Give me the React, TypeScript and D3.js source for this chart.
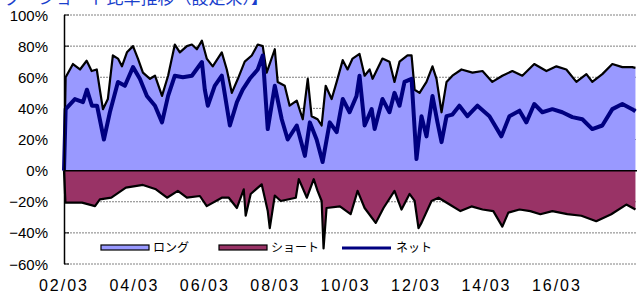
import React from "react";
import * as d3 from "d3";

// ロング比率（％）
const longDates = [
  "2002-03-01", "2002-03-18", "2002-06-02", "2002-08-14", "2002-10-22", "2002-12-13", "2003-02-04",
  "2003-03-08", "2003-04-09", "2003-05-30", "2003-07-21", "2003-09-12", "2003-10-23", "2003-12-14",
  "2004-02-15", "2004-04-06", "2004-05-28", "2004-08-09", "2004-09-30", "2004-12-12", "2005-02-13",
  "2005-04-24", "2005-06-15", "2005-08-27", "2005-10-18", "2005-12-09", "2006-01-30", "2006-03-21",
  "2006-05-22", "2006-08-24", "2006-10-15", "2006-12-06", "2007-02-07", "2007-04-19", "2007-07-01",
  "2007-09-01", "2007-10-23", "2007-12-03", "2008-02-25", "2008-03-26", "2008-06-07", "2008-07-28",
  "2008-10-10", "2008-12-11", "2009-02-01", "2009-03-13", "2009-05-14", "2009-06-25", "2009-08-06",
  "2009-10-07", "2009-11-28", "2010-01-30", "2010-03-21", "2010-05-12", "2010-07-23", "2010-09-14",
  "2010-11-05", "2010-12-06", "2011-03-18", "2011-05-30", "2011-07-21", "2011-09-11", "2011-12-03",
  "2012-01-14", "2012-02-15", "2012-04-06", "2012-06-17", "2012-08-18", "2012-09-29", "2012-11-20",
  "2013-01-11", "2013-03-13", "2013-06-15", "2013-10-07", "2014-01-19", "2014-05-01", "2014-08-13",
  "2014-11-25", "2015-03-08", "2015-07-10", "2015-11-13", "2016-02-25", "2016-06-07", "2016-09-19",
  "2017-01-01", "2017-03-03", "2017-06-15", "2017-09-27", "2018-01-09", "2018-04-21", "2018-05-25",
];
const longValues = [
  0, 60, 68.5, 65, 70.6, 64, 65,
  52, 39.5, 46, 74, 72, 67, 76,
  80, 72, 63, 59, 61, 48, 61,
  81, 76, 80, 81, 78, 83.5, 72,
  67, 76, 65, 50, 59, 70, 74,
  81, 80, 63, 78, 57, 54.5, 41.7,
  45, 33, 59, 35, 33, 29, 54.5,
  46, 57, 71, 65, 72, 75, 61,
  65, 59, 72, 70, 57, 70, 74,
  74, 52, 50, 57, 67, 59, 37.5,
  57, 61, 65, 63, 64, 57, 61,
  64, 61, 68.5, 64, 67, 65, 57,
  62, 57, 62, 68.5, 66.5, 66.5, 66,
];

// ショート比率（％）
const shortDates = [
  "2002-03-01", "2002-03-16", "2002-09-04", "2003-01-17", "2003-03-08", "2003-07-05", "2003-12-03",
  "2004-05-28", "2004-10-10", "2005-02-02", "2005-05-25", "2005-08-27", "2006-01-09", "2006-03-21",
  "2006-08-24", "2006-11-05", "2007-01-28", "2007-04-09", "2007-04-29", "2007-06-20", "2007-10-12",
  "2007-12-14", "2008-01-04", "2008-02-25", "2008-04-27", "2008-09-30", "2008-10-31", "2009-01-23",
  "2009-04-04", "2009-05-14", "2009-06-25", "2009-07-15", "2009-08-15", "2010-01-01", "2010-04-22",
  "2010-07-03", "2010-09-14", "2011-01-07", "2011-03-29", "2011-07-21", "2011-10-02", "2011-12-24",
  "2012-02-15", "2012-03-26", "2012-04-26", "2012-08-08", "2012-10-20", "2013-02-12", "2013-06-04",
  "2013-09-27", "2014-01-19", "2014-05-11", "2014-08-13", "2014-10-14", "2015-02-07", "2015-05-30",
  "2015-09-11", "2016-01-14", "2016-06-17", "2016-11-10", "2017-04-13", "2017-09-16", "2018-02-19",
  "2018-05-25",
];
const shortValues = [
  0, -20.6, -20.6, -22.8, -18.5, -17.4, -10.9,
  -9.2, -12, -17.4, -13, -17.4, -16.3, -22.8,
  -17.4, -17.4, -24, -12, -29, -15, -8.8,
  -26, -37, -16, -19.5, -17.4, -5.5, -17.4,
  -5.5, -13, -19.5, -50, -24, -23, -28,
  -13, -24, -33.6, -24, -13, -25, -15,
  -19.5, -37, -33.6, -19.5, -17.4, -21.8, -26,
  -23, -25, -26, -36, -27, -25, -26,
  -28, -26, -28, -29, -32.5, -28, -21.8,
  -25,
];

// ネット（％）
const netDates = [
  "2002-03-01", "2002-03-18", "2002-06-22", "2002-09-14", "2002-10-25", "2002-12-16", "2003-02-07",
  "2003-04-19", "2003-06-20", "2003-09-12", "2003-11-23", "2004-02-15", "2004-04-26", "2004-07-08",
  "2004-09-30", "2004-12-12", "2005-02-13", "2005-04-24", "2005-07-16", "2005-10-18", "2006-01-30",
  "2006-03-01", "2006-04-01", "2006-06-12", "2006-08-24", "2006-11-16", "2007-01-28", "2007-03-29",
  "2007-06-10", "2007-09-01", "2007-10-23", "2007-12-14", "2008-02-25", "2008-05-07", "2008-07-08",
  "2008-10-10", "2009-01-02", "2009-02-23", "2009-05-04", "2009-07-05", "2009-09-17", "2009-11-28",
  "2010-01-30", "2010-04-11", "2010-06-22", "2010-07-23", "2010-09-14", "2010-11-26", "2010-12-27",
  "2011-03-18", "2011-05-30", "2011-07-21", "2011-09-11", "2011-11-02", "2012-01-14", "2012-03-05",
  "2012-04-26", "2012-06-17", "2012-08-18", "2012-10-09", "2012-11-20", "2013-01-11", "2013-03-13",
  "2013-05-24", "2013-08-16", "2013-11-28", "2014-04-01", "2014-08-03", "2014-10-25", "2015-02-07",
  "2015-04-19", "2015-07-10", "2015-10-02", "2016-01-14", "2016-04-26", "2016-08-08", "2016-11-20",
  "2017-03-03", "2017-06-15", "2017-09-27", "2018-01-09", "2018-04-21", "2018-05-25",
];
const netValues = [
  0, 39.5, 46, 44, 52, 41.7, 41.7,
  20, 37.5, 57, 54.5, 66.5, 59, 48,
  41.7, 31, 48, 61, 60, 61, 69.8,
  52, 41.7, 54.5, 61, 29, 44, 52,
  59, 65, 74, 26.7, 54.5, 33, 20,
  29, 9.5, 31, 20, 5.5, 31, 24.7,
  46, 37.5, 48, 61, 29, 39.5, 26.7,
  46, 37.5, 50, 41.7, 57, 59, 7.4,
  35, 22, 48, 31, 18.3, 35, 36,
  41.7, 35, 41.7, 35, 22, 35, 38.5,
  31, 42.8, 37.5, 39.5, 37.5, 34.4, 33,
  26.7, 29, 39.5, 42.8, 39.5, 38,
];

const yTicks = [100, 80, 60, 40, 20, 0, -20, -40, -60];
const xTickDates = ["2002-03-01", "2004-03-01", "2006-03-01", "2008-03-01", "2010-03-01", "2012-03-01", "2014-03-01", "2016-03-01"];
const legendLabels = ["ロング", "ショート", "ネット"];
const title = "【ロング・ショート比率推移（設定来）】";

const W = 637;
const H = 293;
const parse = d3.timeParse("%Y-%m-%d");

type Pt = { d: Date; v: number };
const zip = (ds: string[], vs: number[]): Pt[] => ds.map((s, i) => ({ d: parse(s) as Date, v: vs[i] }));

export default function App() {
  const x = d3.scaleTime()
    .domain([parse("2002-03-01") as Date, parse("2018-06-10") as Date])
    .range([64, 637]);
  const y = d3.scaleLinear().domain([-60, 100]).range([264, 15]);

  const longData = zip(longDates, longValues);
  const shortData = zip(shortDates, shortValues);
  const netData = zip(netDates, netValues);

  const area = d3.area<Pt>().x(p => x(p.d)).y0(y(0)).y1(p => y(p.v));
  const line = d3.line<Pt>().x(p => x(p.d)).y(p => y(p.v));
  const fmt = d3.timeFormat("%y/%m");

  const font = "'Liberation Sans', Arial, sans-serif";
  const jp = "'Noto Sans CJK JP', sans-serif";

  return (
    <svg width={W} height={H} style={{ position: "absolute", left: 0, top: 0, background: "#fff" }}>
      {/* title sits mostly above the top edge, as in the source */}
      <text x={268} y={4} textAnchor="end" fontFamily={jp} fontSize={17} fill="#1a3fcc">{title}</text>

      {/* grid */}
      {yTicks.filter(t => t !== 0).map(t => (
        <line key={t} x1={64} x2={637} y1={y(t)} y2={y(t)} stroke="#808080" strokeWidth={1} strokeDasharray="2,1" />
      ))}
      {yTicks.map(t => (
        <line key={"tk" + t} x1={64} x2={69} y1={y(t)} y2={y(t)} stroke="#000" strokeWidth={1} />
      ))}

      <path d={area(longData) || ""} fill="#9999FF" />
      <path d={area(shortData) || ""} fill="#993366" />
      <path d={line(longData) || ""} fill="none" stroke="#000" strokeWidth={2.2} strokeLinejoin="round" />
      <path d={line(shortData) || ""} fill="none" stroke="#000" strokeWidth={2.2} strokeLinejoin="round" />
      <path d={line(netData) || ""} fill="none" stroke="#000080" strokeWidth={4} strokeLinejoin="round" />

      <line x1={64} x2={637} y1={y(0)} y2={y(0)} stroke="#000" strokeWidth={1.5} />
      <line x1={64.5} x2={64.5} y1={y(100)} y2={y(-60)} stroke="#000" strokeWidth={1.5} />

      {yTicks.map(t => (
        <text key={"yl" + t} x={48} y={y(t) + 5.5} textAnchor="end" fontFamily={font} fontSize={15} fill="#000">
          {(t < 0 ? "−" + Math.abs(t) : String(t)) + "%"}
        </text>
      ))}
      {xTickDates.map(s => {
        const d = parse(s) as Date;
        return (
          <text key={s} x={x(d)} y={291} textAnchor="middle" fontFamily={font} fontSize={16} letterSpacing={2} fill="#000">
            {fmt(d)}
          </text>
        );
      })}

      {/* legend */}
      <rect x={101} y={245} width={48} height={5} fill="#9999FF" stroke="#000" strokeWidth={1.2} />
      <text x={153} y={252} fontFamily={jp} fontSize={12} fill="#000">{legendLabels[0]}</text>
      <rect x={219} y={245} width={48} height={5} fill="#993366" stroke="#000" strokeWidth={1.2} />
      <text x={271} y={252} fontFamily={jp} fontSize={12} fill="#000">{legendLabels[1]}</text>
      <line x1={342} x2={391} y1={248} y2={248} stroke="#000080" strokeWidth={3} />
      <text x={396} y={252} fontFamily={jp} fontSize={12} fill="#000">{legendLabels[2]}</text>
    </svg>
  );
}
